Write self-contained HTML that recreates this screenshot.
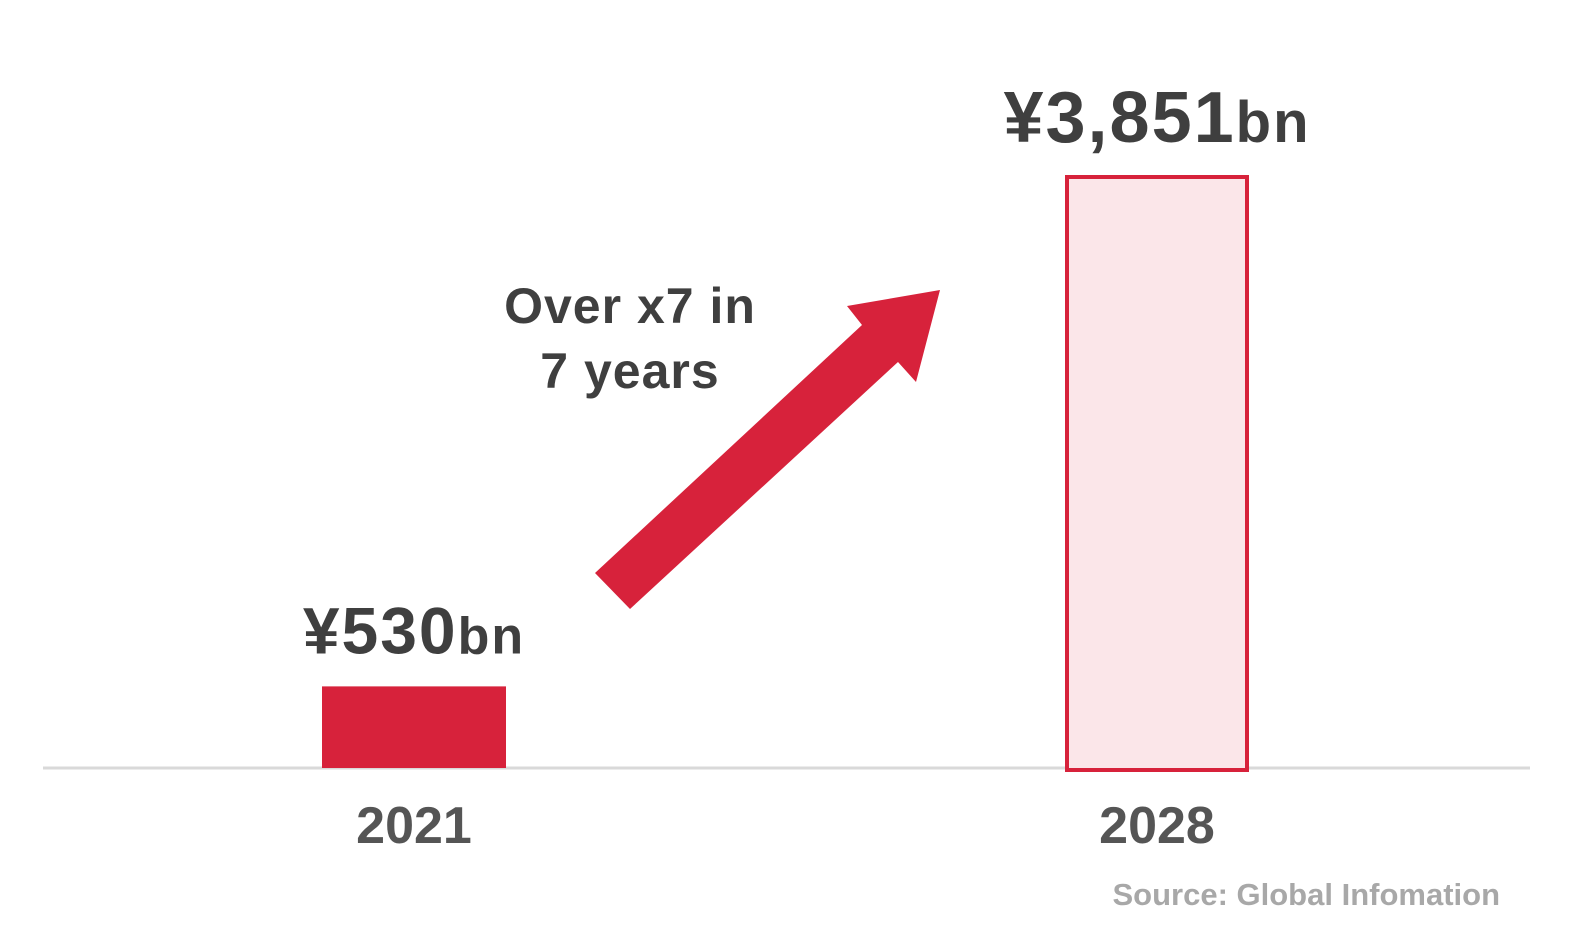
<!DOCTYPE html>
<html><head><meta charset="utf-8"><style>
html,body{margin:0;padding:0;background:#fff;}
svg{display:block;font-family:"Liberation Sans","DejaVu Sans",sans-serif;}
</style></head><body>
<svg id="chart" width="1570" height="940" viewBox="0 0 1570 940" xmlns="http://www.w3.org/2000/svg">
<line x1="43" y1="768" x2="1530" y2="768" stroke="#d9d9d9" stroke-width="3"/>
<polygon points="595,573 862,325 847,306 940,290 916,382 898,362 630,609" fill="#d7223b"/>
<text text-anchor="middle" font-weight="bold" font-size="50" fill="#3f3f3f" letter-spacing="1">
<tspan x="630" y="323">Over x7 in</tspan><tspan x="630" y="388">7 years</tspan></text>
<g id="bars"></g>
<text x="1500" y="905" text-anchor="end" font-weight="bold" font-size="31" fill="#a8a8a8">Source: Global Infomation</text>
</svg>
<script>
const categories = ["2021", "2028"];
const values = [530, 3851];
const valueLabels = ["¥530", "¥3,851"];
const ns = "http://www.w3.org/2000/svg";
const baseY = 768, topY = 175, maxV = 3851;
const y = v => baseY - (v / maxV) * (baseY - topY);
const xCenter = i => 414 + i * 743;
const barW = 184;
const g = document.getElementById("bars");
categories.forEach((c, i) => {
  const r = document.createElementNS(ns, "rect");
  
  
  const x0 = xCenter(i) - barW / 2, yt = y(values[i]);
  if (i === 0) {
    r.setAttribute("x", x0); r.setAttribute("y", yt);
    r.setAttribute("width", barW); r.setAttribute("height", baseY - yt);
    r.setAttribute("fill", "#d7223b");
  } else {
    r.setAttribute("x", x0 + 2); r.setAttribute("y", yt + 2);
    r.setAttribute("width", barW - 4); r.setAttribute("height", baseY - yt);
    r.setAttribute("fill", "#fbe6e9"); r.setAttribute("stroke", "#d7223b");
    r.setAttribute("stroke-width", "4");
  }
  g.appendChild(r);
  const t = document.createElementNS(ns, "text");
  
  
  t.setAttribute("x", xCenter(i)); t.setAttribute("y", yt - 33);
  t.setAttribute("text-anchor", "middle"); t.setAttribute("font-weight", "bold");
  t.setAttribute("fill", "#3f3f3f");
  t.setAttribute("font-size", i === 0 ? "66" : "72");
  t.setAttribute("letter-spacing", "2");
  const s1 = document.createElementNS(ns, "tspan"); s1.textContent = valueLabels[i];
  const s2 = document.createElementNS(ns, "tspan"); s2.textContent = "bn";
  s2.setAttribute("font-size", i === 0 ? "52" : "58");
  t.appendChild(s1); t.appendChild(s2);
  g.appendChild(t);
  const xl = document.createElementNS(ns, "text");
  
  
  xl.setAttribute("x", xCenter(i)); xl.setAttribute("y", 843);
  xl.setAttribute("text-anchor", "middle"); xl.setAttribute("font-weight", "bold");
  xl.setAttribute("font-size", "52"); xl.setAttribute("fill", "#555");
  xl.textContent = c;
  g.appendChild(xl);
});
</script>
</body></html>
